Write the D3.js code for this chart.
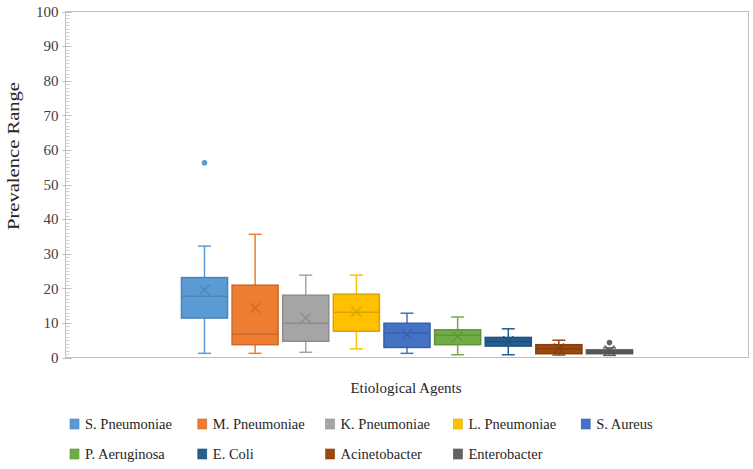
<!DOCTYPE html>
<html>
<head>
<meta charset="utf-8">
<script src="https://cdnjs.cloudflare.com/ajax/libs/d3/7.8.5/d3.min.js"></script>
<style>
  body { margin: 0; background: #fff; }
</style>
</head>
<body>
<script>
// Data
const agents = ["S. Pneumoniae", "M. Pneumoniae", "K. Pneumoniae", "L. Pneumoniae", "S. Aureus",
  "P. Aeruginosa", "E. Coli", "Acinetobacter", "Enterobacter"];
const colors = ["#5B9BD5", "#ED7D31", "#A5A5A5", "#FFC000", "#4472C4",
  "#70AD47", "#255E91", "#9E480E", "#636363"];
const minVals = [1.2, 1.2, 1.5, 2.5, 1.2, 0.8, 0.8, 0.7, 0.6];
const q1Vals = [11.4, 3.7, 4.7, 7.6, 2.9, 3.7, 3.3, 1.1, 1.1];
const medianVals = [17.7, 6.7, 9.9, 13.1, 7.0, 6.4, 4.6, 2.5, 1.6];
const q3Vals = [23.1, 20.9, 18.0, 18.3, 9.9, 8.0, 5.8, 3.7, 2.2];
const maxVals = [32.2, 35.6, 23.8, 23.8, 12.8, 11.7, 8.3, 5.0, 2.8];
const meanVals = [19.6, 14.3, 11.4, 13.2, 6.7, 6.1, 4.7, 2.6, 2.0];
const outliers = [[56.3], [], [], [], [], [], [], [], [4.3]];
const yTicks = [0, 10, 20, 30, 40, 50, 60, 70, 80, 90, 100];

const serif = "'Liberation Serif', 'Times New Roman', 'DejaVu Serif', serif";

// Canvas config
const config = { width: 753, height: 469 };
const plot = { left: 65.5, right: 748.5, top: 11.5, bottom: 357.5 };

const svg = d3.select("body").append("svg")
  .attr("width", config.width)
  .attr("height", config.height)
  .attr("font-family", serif);

// Scales
const x = d3.scaleBand()
  .domain(agents)
  .range([plot.left, plot.right])
  .paddingInner(0.09)
  .paddingOuter(2.29);

const y = d3.scaleLinear().domain([0, 100]).range([plot.bottom, plot.top]);

const boxes = agents.map((name, i) => ({
  name, color: colors[i], min: minVals[i], q1: q1Vals[i], median: medianVals[i],
  q3: q3Vals[i], max: maxVals[i], mean: meanVals[i], outliers: outliers[i]
}));

// Frame
svg.append("rect")
  .attr("x", plot.left).attr("y", plot.top)
  .attr("width", plot.right - plot.left).attr("height", plot.bottom - plot.top)
  .attr("fill", "none").attr("stroke", "#bfbfbf").attr("stroke-width", 1);

// Y axis: minor and major ticks
const yAxis = svg.append("g").attr("transform", `translate(${plot.left},0)`);
yAxis.selectAll(".minor")
  .data(d3.range(0, 101, 1))
  .enter().append("line")
  .attr("x1", 0).attr("x2", 4)
  .attr("y1", d => Math.round(y(d)) + 0.5).attr("y2", d => Math.round(y(d)) + 0.5)
  .attr("stroke", "#d0d0d0");
yAxis.selectAll(".major")
  .data(yTicks)
  .enter().append("line")
  .attr("x1", -3).attr("x2", 6)
  .attr("y1", d => Math.round(y(d)) + 0.5).attr("y2", d => Math.round(y(d)) + 0.5)
  .attr("stroke", "#bfbfbf");
yAxis.selectAll(".label")
  .data(yTicks)
  .enter().append("text")
  .attr("x", -7).attr("y", d => y(d))
  .attr("dy", "0.35em")
  .attr("text-anchor", "end")
  .attr("font-family", serif)
  .attr("font-size", 15)
  .attr("fill", "#404040")
  .text(d => d);

// Axis titles
svg.append("text")
  .attr("transform", `translate(19,156) rotate(-90)`)
  .attr("text-anchor", "middle")
  .attr("font-family", serif)
  .attr("font-size", 16)
  .attr("textLength", 148)
  .attr("lengthAdjust", "spacingAndGlyphs")
  .attr("fill", "#262626")
  .text("Prevalence Range");

svg.append("text")
  .attr("x", 406).attr("y", 393)
  .attr("text-anchor", "middle")
  .attr("font-family", serif)
  .attr("font-size", 15)
  .attr("fill", "#262626")
  .text("Etiological Agents");

// Boxes
const g = svg.append("g").selectAll("g")
  .data(boxes)
  .enter().append("g")
  .attr("class", "box");

const cx = d => x(d.name) + x.bandwidth() / 2;
const edge = d => d3.color(d.color).darker(0.45).formatHex();
const capW = 6.5;

// whiskers
g.append("line")
  .attr("x1", cx).attr("x2", cx)
  .attr("y1", d => y(d.max)).attr("y2", d => y(d.q3))
  .attr("stroke", d => d.color).attr("stroke-width", 1.5);
g.append("line")
  .attr("x1", cx).attr("x2", cx)
  .attr("y1", d => y(d.q1)).attr("y2", d => y(d.min))
  .attr("stroke", d => d.color).attr("stroke-width", 1.5);
g.append("line")
  .attr("x1", d => cx(d) - capW).attr("x2", d => cx(d) + capW)
  .attr("y1", d => y(d.max)).attr("y2", d => y(d.max))
  .attr("stroke", d => d.color).attr("stroke-width", 1.5);
g.append("line")
  .attr("x1", d => cx(d) - capW).attr("x2", d => cx(d) + capW)
  .attr("y1", d => y(d.min)).attr("y2", d => y(d.min))
  .attr("stroke", d => d.color).attr("stroke-width", 1.5);

// box
g.append("rect")
  .attr("x", d => x(d.name))
  .attr("width", x.bandwidth())
  .attr("y", d => y(d.q3))
  .attr("height", d => y(d.q1) - y(d.q3))
  .attr("fill", d => d.color)
  .attr("stroke", edge)
  .attr("stroke-width", 1.5);

// median
g.append("line")
  .attr("x1", d => x(d.name)).attr("x2", d => x(d.name) + x.bandwidth())
  .attr("y1", d => y(d.median)).attr("y2", d => y(d.median))
  .attr("stroke", edge).attr("stroke-width", 1.5);

// mean marker
const m = 5;
g.append("path")
  .attr("d", d => {
    const px = cx(d), py = y(d.mean);
    return `M${px - m},${py - m}L${px + m},${py + m}M${px - m},${py + m}L${px + m},${py - m}`;
  })
  .attr("stroke", edge).attr("stroke-width", 1.3).attr("fill", "none");

// outliers
g.selectAll("circle")
  .data(d => d.outliers.map(v => ({ v, d })))
  .enter().append("circle")
  .attr("cx", o => cx(o.d))
  .attr("cy", o => y(o.v))
  .attr("r", 2.8)
  .attr("fill", o => o.d.color);

// Legend
const legend = svg.append("g").attr("id", "legend");
const item = legend.selectAll("g")
  .data(boxes)
  .enter().append("g")
  .attr("transform", (d, i) => `translate(${70 + (i % 5) * 127.8},${i < 5 ? 424 : 454})`);
item.append("rect")
  .attr("x", 0).attr("y", -5)
  .attr("width", 9).attr("height", 10)
  .attr("fill", d => d.color)
  .attr("stroke", edge).attr("stroke-width", 0.6);
item.append("text")
  .attr("x", 15).attr("y", 0)
  .attr("dy", "0.35em")
  .attr("font-family", serif)
  .attr("font-size", 14.5)
  .attr("fill", "#262626")
  .text(d => d.name);
</script>
</body>
</html>
